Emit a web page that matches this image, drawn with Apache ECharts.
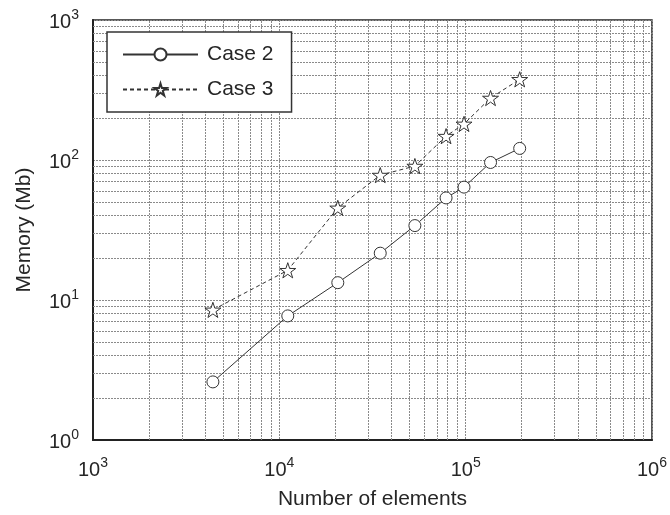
<!DOCTYPE html>
<html>
<head>
<meta charset="utf-8">
<title>Memory vs number of elements</title>
<script src="https://cdn.jsdelivr.net/npm/echarts@6/dist/echarts.min.js"></script>
<style>
  html, body { margin: 0; padding: 0; background: #fff; }
  #chart { width: 670px; height: 515px; }
</style>
</head>
<body>
<div id="chart"></div>
<script>
// 数据：单元数量 vs 内存
const elements = [4400, 11100, 20600, 34800, 53400, 78500, 98000, 136000, 195000];
const case2 = [2.6, 7.7, 13.3, 21.6, 34, 53.6, 64, 96, 121];
const case3 = [8.5, 16.3, 45.5, 78, 90.5, 148, 181, 277, 377];

// 次网格线（对数刻度 2..9）
const xMinor = [2e3, 3e3, 4e3, 5e3, 6e3, 7e3, 8e3, 9e3,
  2e4, 3e4, 4e4, 5e4, 6e4, 7e4, 8e4, 9e4,
  2e5, 3e5, 4e5, 5e5, 6e5, 7e5, 8e5, 9e5];
const yMinor = [2, 3, 4, 5, 6, 7, 8, 9,
  20, 30, 40, 50, 60, 70, 80, 90,
  200, 300, 400, 500, 600, 700, 800, 900];

const FONT = "'Liberation Sans', Arial, sans-serif";
const INK = "#262626";
const GRID_STYLE = { color: "#8a8a8a", type: [2, 1], width: 1 };

const STAR =
  "path://M10,0L12.245,6.91L19.511,6.91L13.633,11.18L15.878,18.09L10,13.82L4.122,18.09L6.367,11.18L0.489,6.91L7.755,6.91Z";

function powLabel(v) {
  return "{a|10}{b|" + Math.round(Math.log10(v)) + "}";
}
const powRich = {
  a: { fontSize: 20, lineHeight: 24, color: INK, fontFamily: FONT, verticalAlign: "bottom" },
  b: { fontSize: 14, lineHeight: 14, color: INK, fontFamily: FONT, verticalAlign: "top" },
};

const chart = echarts.init(document.getElementById("chart"));

chart.setOption({
  animation: false,
  textStyle: { fontFamily: FONT },
  grid: {
    left: 93,
    right: 11,
    top: 20,
    bottom: 70,
    show: true,
    borderColor: "#222",
    borderWidth: 1.5,
  },
  legend: {
    data: ["Case 2", "Case 3"],
    orient: "vertical",
    left: 107,
    top: 32,
    z: 20,
    padding: [12, 18, 12, 15],
    itemGap: 14,
    itemWidth: 75,
    itemHeight: 15,
    borderColor: "#333",
    borderWidth: 1.5,
    backgroundColor: "#fff",
    textStyle: { fontSize: 21, color: INK, fontFamily: FONT, padding: [0, 0, 0, 4] },
  },
  xAxis: {
    type: "log",
    logBase: 10,
    min: 1e3,
    max: 1e6,
    splitNumber: 3,
    name: "Number of elements",
    nameLocation: "middle",
    nameGap: 49,
    nameTextStyle: { fontSize: 21, color: INK, fontFamily: FONT },
    axisLine: { show: true, lineStyle: { color: "#222", width: 2 } },
    axisTick: { show: false },
    axisLabel: { margin: 16, formatter: powLabel, rich: powRich },
    splitLine: { show: true, lineStyle: GRID_STYLE },
  },
  yAxis: {
    type: "log",
    logBase: 10,
    min: 1,
    max: 1e3,
    splitNumber: 3,
    name: "Memory (Mb)",
    nameLocation: "middle",
    nameGap: 58,
    nameTextStyle: { fontSize: 21, color: INK, fontFamily: FONT },
    axisLine: { show: true, lineStyle: { color: "#222", width: 2 } },
    axisTick: { show: false },
    axisLabel: { margin: 14, formatter: powLabel, rich: powRich },
    splitLine: { show: true, lineStyle: GRID_STYLE },
  },
  series: [
    {
      // 次网格线
      name: "minor",
      type: "line",
      data: [],
      z: 1,
      silent: true,
      markLine: {
        silent: true,
        z: 1,
        symbol: ["none", "none"],
        label: { show: false },
        lineStyle: GRID_STYLE,
        data: xMinor.map((v) => ({ xAxis: v })).concat(yMinor.map((v) => ({ yAxis: v }))),
      },
    },
    {
      name: "Case 2",
      type: "line",
      z: 3,
      data: elements.map((x, i) => [x, case2[i]]),
      symbol: "circle",
      symbolSize: 12,
      itemStyle: { color: "#fff", borderColor: "#333", borderWidth: 1 },
      lineStyle: { color: "#333", width: 1 },
    },
    {
      name: "Case 3",
      type: "line",
      z: 3,
      data: elements.map((x, i) => [x, case3[i]]),
      symbol: STAR,
      symbolKeepAspect: true,
      symbolSize: 16,
      itemStyle: { color: "#fff", borderColor: "#333", borderWidth: 1 },
      lineStyle: { color: "#333", width: 1, type: [4, 3] },
    },
  ],
});

window.addEventListener("resize", () => chart.resize());
</script>
</body>
</html>
